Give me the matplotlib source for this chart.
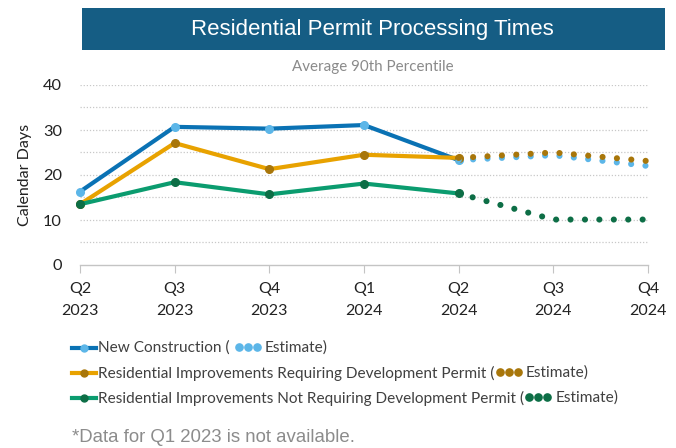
import matplotlib
matplotlib.use("Agg")
import matplotlib.pyplot as plt
from matplotlib.lines import Line2D
from matplotlib.patches import Rectangle

# quarter labels along the x axis
quarters = ["Q2\n2023", "Q3\n2023", "Q4\n2023", "Q1\n2024", "Q2\n2024", "Q3\n2024", "Q4\n2024"]
actual_idx = [0, 1, 2, 3, 4]
estimate_idx = [4, 5, 6]

# 90th percentile calendar days
new_construction = [16.3, 30.7, 30.3, 31.1, 23.3]
new_construction_est = [23.3, 24.4, 22.0]
req_dev_permit = [13.5, 27.1, 21.3, 24.5, 23.8]
req_dev_permit_est = [23.8, 25.0, 23.1]
not_req_dev_permit = [13.5, 18.4, 15.7, 18.1, 15.9]
not_req_dev_permit_est = [15.9, 10.1, 10.1]

series_names = [
    "New Construction ( ",
    "Residential Improvements Requiring Development Permit (",
    "Residential Improvements Not Requiring Development Permit (",
]
line_colors = ["#0a72b4", "#e8a200", "#0b9c6f"]
marker_colors = ["#5cb6e8", "#a8760a", "#0d6e46"]

W, H = 676, 448
fig = plt.figure(figsize=(W / 100, H / 100), dpi=100)
fig.patch.set_facecolor("white")

def fx(px):
    return px / W

def fy(py):
    return 1 - py / H

# title banner
fig.add_artist(Rectangle((fx(82), fy(50)), fx(665) - fx(82), fy(8) - fy(50),
                         transform=fig.transFigure, facecolor="#155d84", edgecolor="none"))
fig.text(fx(372), fy(29.5), "Residential Permit Processing Times", color="white",
         fontsize=16, family="Liberation Sans", ha="center", va="center")
fig.text(fx(373), fy(67), "Average 90th Percentile", color="#8a8a8a",
         fontsize=10.9, family="Lato", ha="center", va="center")

ax = fig.add_axes([fx(80), fy(265), fx(648) - fx(80), fy(85) - fy(265)])
ax.set_xlim(0, 6)
ax.set_ylim(0, 40)

for y in range(5, 45, 5):
    ax.axhline(y, color="#c8c8c8", lw=0.9, ls=(0, (1, 1.5)), zorder=0)

for sp in ["top", "right", "left"]:
    ax.spines[sp].set_visible(False)
ax.spines["bottom"].set_color("#c4c4c4")
ax.spines["bottom"].set_linewidth(1.0)

ax.set_xticks(range(len(quarters)))
ax.set_xticklabels(quarters, fontsize=11.5, family="Lato", color="#222222", linespacing=1.75)
ax.set_yticks([0, 10, 20, 30, 40])
ax.set_yticklabels(["0", "10", "20", "30", "40"], fontsize=11.8, family="Lato", color="#222222")
ax.tick_params(axis="x", length=6, color="#c4c4c4", pad=6)
ax.tick_params(axis="y", length=0, pad=13)
ax.set_ylabel("Calendar Days", fontsize=11.5, family="Lato", color="#222222", labelpad=8)

actual = [new_construction, req_dev_permit, not_req_dev_permit]
estimates = [new_construction_est, req_dev_permit_est, not_req_dev_permit_est]

for vals, lc, mc in zip(actual, line_colors, marker_colors):
    ax.plot(actual_idx, vals, color=lc, lw=3.0, marker="o", ms=5.5,
            mfc=mc, mec=mc, clip_on=False, zorder=3, solid_capstyle="round")

for vals, mc in zip(estimates, marker_colors):
    ax.plot(estimate_idx, vals, color=mc, lw=4.4, ls=(0, (0.01, 2.35)),
            dash_capstyle="round", clip_on=False, zorder=4)

# custom legend below the plot
renderer = fig.canvas.get_renderer()
legend_y = [348, 373, 398]
for name, lc, mc, py in zip(series_names, line_colors, marker_colors, legend_y):
    fig.add_artist(Line2D([fx(72), fx(96)], [fy(py), fy(py)], color=lc, lw=3.0,
                          transform=fig.transFigure))
    fig.add_artist(Line2D([fx(84)], [fy(py)], color=mc, marker="o", ms=5,
                          transform=fig.transFigure))
    t = fig.text(fx(98), fy(py), name, color="#404040", fontsize=11.1, family="Lato",
                 ha="left", va="center")
    x0 = fx(98) * W + t.get_window_extent(renderer).width + 1
    dots_x = [x0 + 4 + 9 * k for k in range(3)]
    fig.add_artist(Line2D([fx(v) for v in dots_x], [fy(py - 0.8)] * 3, ls="none",
                          marker="o", ms=5.2, color=mc, transform=fig.transFigure))
    fig.text(fx(dots_x[-1] + 8.5), fy(py), "Estimate)", color="#404040", fontsize=11.1,
             family="Lato", ha="left", va="center")

fig.text(fx(72), fy(437), "*Data for Q1 2023 is not available.", color="#8c8c8c",
         fontsize=13.4, family="Liberation Sans", ha="left", va="center")

fig.savefig("out.png", dpi=100)
